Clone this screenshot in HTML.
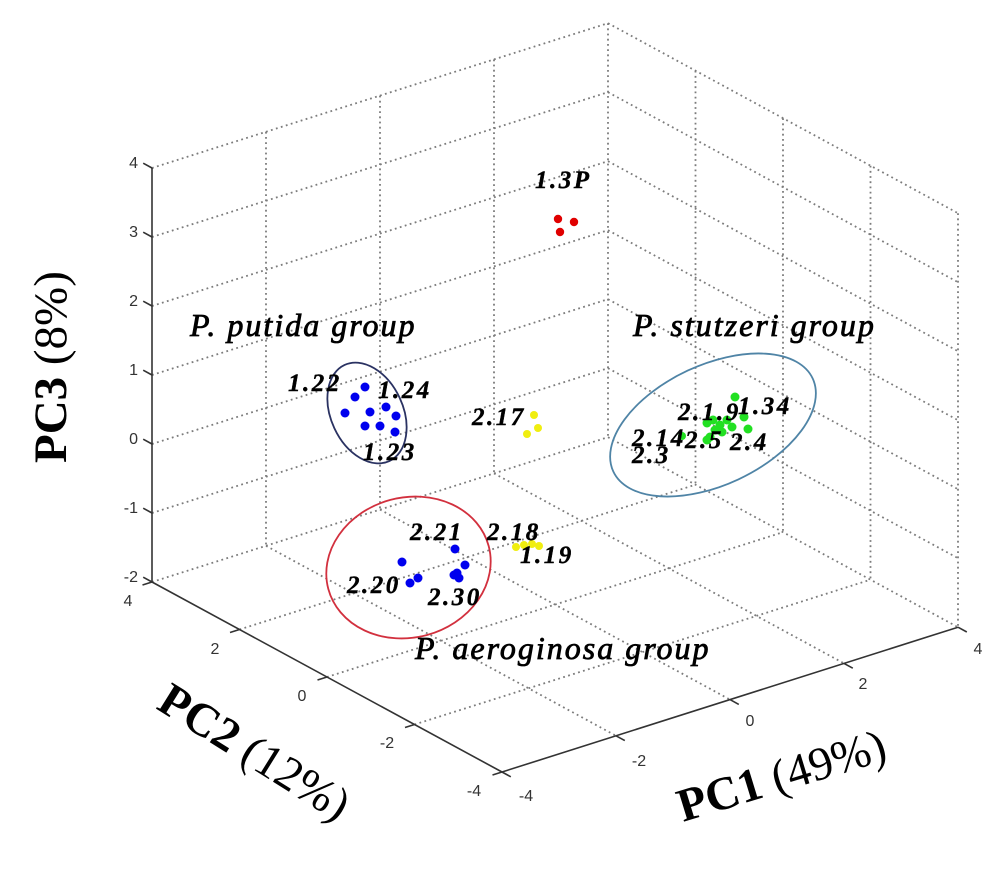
<!DOCTYPE html>
<html>
<head>
<meta charset="utf-8">
<style>
  html,body{margin:0;padding:0;background:#fff;}
  svg{display:block;}
  .grid{stroke:#7c7c7c;stroke-width:1.8;stroke-dasharray:1.8 3.4;fill:none;}
  .ax{stroke:#333;stroke-width:1.6;fill:none;}
  .tk{font-family:"Liberation Sans",sans-serif;font-size:16px;fill:#333;}
  .dl{font-family:"Liberation Serif",serif;font-style:italic;font-weight:bold;font-size:25px;letter-spacing:2.5px;fill:#000;stroke:#000;stroke-width:0.4;}
  .gl{font-family:"Liberation Serif",serif;font-style:italic;font-size:32px;letter-spacing:2px;fill:#000;stroke:#000;stroke-width:0.8;}
  .al{font-family:"Liberation Serif",serif;font-size:47px;fill:#000;}
</style>
</head>
<body>
<svg width="1000" height="885" viewBox="0 0 1000 885" xmlns="http://www.w3.org/2000/svg">
  <rect width="1000" height="885" fill="#fff"/>

  <g class="grid">
    <line x1="152" y1="513" x2="608" y2="368.2"/>
    <line x1="152" y1="444" x2="608" y2="299.2"/>
    <line x1="152" y1="375" x2="608" y2="230.2"/>
    <line x1="152" y1="306" x2="608" y2="161.2"/>
    <line x1="152" y1="237" x2="608" y2="92.2"/>
    <line x1="152" y1="168" x2="608" y2="23.2"/>
    <line x1="152" y1="582" x2="608" y2="437.2"/>
    <line x1="266" y1="131.8" x2="266" y2="545.8"/>
    <line x1="380" y1="95.6" x2="380" y2="509.6"/>
    <line x1="494" y1="59.4" x2="494" y2="473.4"/>
    <line x1="608" y1="23.2" x2="608" y2="437.2"/>
    <line x1="608" y1="437.2" x2="958" y2="627.2"/>
    <line x1="608" y1="368.2" x2="958" y2="558.2"/>
    <line x1="608" y1="299.2" x2="958" y2="489.2"/>
    <line x1="608" y1="230.2" x2="958" y2="420.2"/>
    <line x1="608" y1="161.2" x2="958" y2="351.2"/>
    <line x1="608" y1="92.2" x2="958" y2="282.2"/>
    <line x1="608" y1="23.2" x2="958" y2="213.2"/>
    <line x1="695.5" y1="70.7" x2="695.5" y2="484.7"/>
    <line x1="783" y1="118.2" x2="783" y2="532.2"/>
    <line x1="870.5" y1="165.7" x2="870.5" y2="579.7"/>
    <line x1="958" y1="213.2" x2="958" y2="627.2"/>
    <line x1="266" y1="545.8" x2="616" y2="735.8"/>
    <line x1="380" y1="509.6" x2="730" y2="699.6"/>
    <line x1="494" y1="473.4" x2="844" y2="663.4"/>
    <line x1="239.5" y1="629.5" x2="695.5" y2="484.7"/>
    <line x1="327" y1="677" x2="783" y2="532.2"/>
    <line x1="414.5" y1="724.5" x2="870.5" y2="579.7"/>
  </g>

  <g class="ax">
    <line x1="152" y1="168" x2="152" y2="582"/>
    <line x1="152" y1="582" x2="502" y2="772"/>
    <line x1="502" y1="772" x2="958" y2="627.2"/>
    <line x1="152" y1="168" x2="143.2" y2="163.2"/>
    <line x1="152" y1="237" x2="143.2" y2="232.2"/>
    <line x1="152" y1="306" x2="143.2" y2="301.2"/>
    <line x1="152" y1="375" x2="143.2" y2="370.2"/>
    <line x1="152" y1="444" x2="143.2" y2="439.2"/>
    <line x1="152" y1="513" x2="143.2" y2="508.2"/>
    <line x1="152" y1="582" x2="143.2" y2="577.2"/>
    <line x1="152" y1="582" x2="142.5" y2="585"/>
    <line x1="239.5" y1="629.5" x2="230" y2="632.5"/>
    <line x1="327" y1="677" x2="317.5" y2="680"/>
    <line x1="414.5" y1="724.5" x2="405" y2="727.5"/>
    <line x1="502" y1="772" x2="492.5" y2="775"/>
    <line x1="502" y1="772" x2="510.8" y2="776.8"/>
    <line x1="616" y1="735.8" x2="624.8" y2="740.6"/>
    <line x1="730" y1="699.6" x2="738.8" y2="704.4"/>
    <line x1="844" y1="663.4" x2="852.8" y2="668.2"/>
    <line x1="958" y1="627.2" x2="966.8" y2="632"/>
  </g>

  <g class="tk" text-anchor="end">
    <text x="138" y="168">4</text>
    <text x="138" y="237">3</text>
    <text x="138" y="306">2</text>
    <text x="138" y="375">1</text>
    <text x="138" y="444">0</text>
    <text x="138" y="513">-1</text>
    <text x="138" y="582">-2</text>
  </g>
  <g class="tk" text-anchor="middle">
    <text x="128" y="606">4</text>
    <text x="215" y="654">2</text>
    <text x="302" y="701">0</text>
    <text x="387" y="748">-2</text>
    <text x="474" y="796">-4</text>
    <text x="526" y="801">-4</text>
    <text x="639" y="766">-2</text>
    <text x="750" y="726">0</text>
    <text x="863" y="689">2</text>
    <text x="978" y="654">4</text>
  </g>

  <ellipse cx="367" cy="413" rx="36" ry="53" transform="rotate(-25 367 413)" fill="none" stroke="#2a3262" stroke-width="1.8"/>
  <ellipse cx="408.5" cy="567.5" rx="83" ry="70" transform="rotate(-15 408.5 567.5)" fill="none" stroke="#d2303e" stroke-width="1.8"/>
  <ellipse cx="713" cy="425" rx="110" ry="60" transform="rotate(-25 713 425)" fill="none" stroke="#4f84a6" stroke-width="1.8"/>

  <g fill="#e00000">
    <circle cx="558" cy="219" r="4.2"/>
    <circle cx="574" cy="222" r="4.2"/>
    <circle cx="560" cy="232" r="4.2"/>
  </g>
  <g fill="#0000ee">
    <circle cx="365" cy="387" r="4.5"/>
    <circle cx="355" cy="397" r="4.5"/>
    <circle cx="345" cy="413" r="4.5"/>
    <circle cx="370" cy="412" r="4.5"/>
    <circle cx="386" cy="407" r="4.5"/>
    <circle cx="396" cy="416" r="4.5"/>
    <circle cx="365" cy="426" r="4.5"/>
    <circle cx="380" cy="426" r="4.5"/>
    <circle cx="395" cy="432" r="4.5"/>
    <circle cx="402" cy="562" r="4.5"/>
    <circle cx="410" cy="583" r="4.5"/>
    <circle cx="418" cy="578" r="4.5"/>
    <circle cx="455" cy="549" r="4.5"/>
    <circle cx="465" cy="565" r="4.5"/>
    <circle cx="454" cy="575" r="4.5"/>
    <circle cx="459" cy="578" r="4.5"/>
    <circle cx="457" cy="573" r="4.5"/>
  </g>
  <g fill="#f0ee10">
    <circle cx="534" cy="415" r="4"/>
    <circle cx="538" cy="428" r="4"/>
    <circle cx="527" cy="434" r="4"/>
    <circle cx="516" cy="547" r="4"/>
    <circle cx="524" cy="545" r="4"/>
    <circle cx="532" cy="544" r="4"/>
    <circle cx="539" cy="546" r="4"/>
  </g>
  <g fill="#22e022">
    <circle cx="735" cy="397" r="4.5"/>
    <circle cx="744" cy="417" r="4.5"/>
    <circle cx="748" cy="429" r="4.5"/>
    <circle cx="707" cy="423" r="4.5"/>
    <circle cx="713" cy="420" r="4.5"/>
    <circle cx="720" cy="425" r="4.5"/>
    <circle cx="727" cy="420" r="4.5"/>
    <circle cx="732" cy="427" r="4.5"/>
    <circle cx="710" cy="437" r="4.5"/>
    <circle cx="707" cy="440" r="4.5"/>
    <circle cx="722" cy="432" r="4.5"/>
    <circle cx="715" cy="430" r="4.5"/>
    <circle cx="682" cy="436" r="4"/>
  </g>

  <g class="dl">
    <text x="535" y="188">1.3P</text>
    <text x="288" y="391">1.22</text>
    <text x="378" y="398">1.24</text>
    <text x="363" y="460">1.23</text>
    <text x="472" y="425">2.17</text>
    <text x="410" y="540">2.21</text>
    <text x="347" y="593">2.20</text>
    <text x="428" y="605">2.30</text>
    <text x="487" y="540">2.18</text>
    <text x="520" y="563">1.19</text>
    <text x="678" y="420">2.</text>
    <text x="702" y="420">1.9</text>
    <text x="738" y="414">1.34</text>
    <text x="632" y="446">2.14</text>
    <text x="685" y="448">2.5</text>
    <text x="730" y="450">2.4</text>
    <text x="632" y="463">2.3</text>
  </g>

  <g class="gl">
    <text x="190" y="336">P. putida group</text>
    <text x="633" y="336">P. stutzeri group</text>
    <text x="415" y="659">P. aeroginosa group</text>
  </g>

  <text class="al" transform="translate(66,463) rotate(-90)"><tspan font-weight="bold">PC3</tspan> (8%)</text>
  <text class="al" transform="translate(155,708) rotate(32)"><tspan font-weight="bold">PC2</tspan> (12%)</text>
  <text class="al" transform="translate(683,822) rotate(-17)"><tspan font-weight="bold">PC1</tspan> (49%)</text>
</svg>
</body>
</html>
